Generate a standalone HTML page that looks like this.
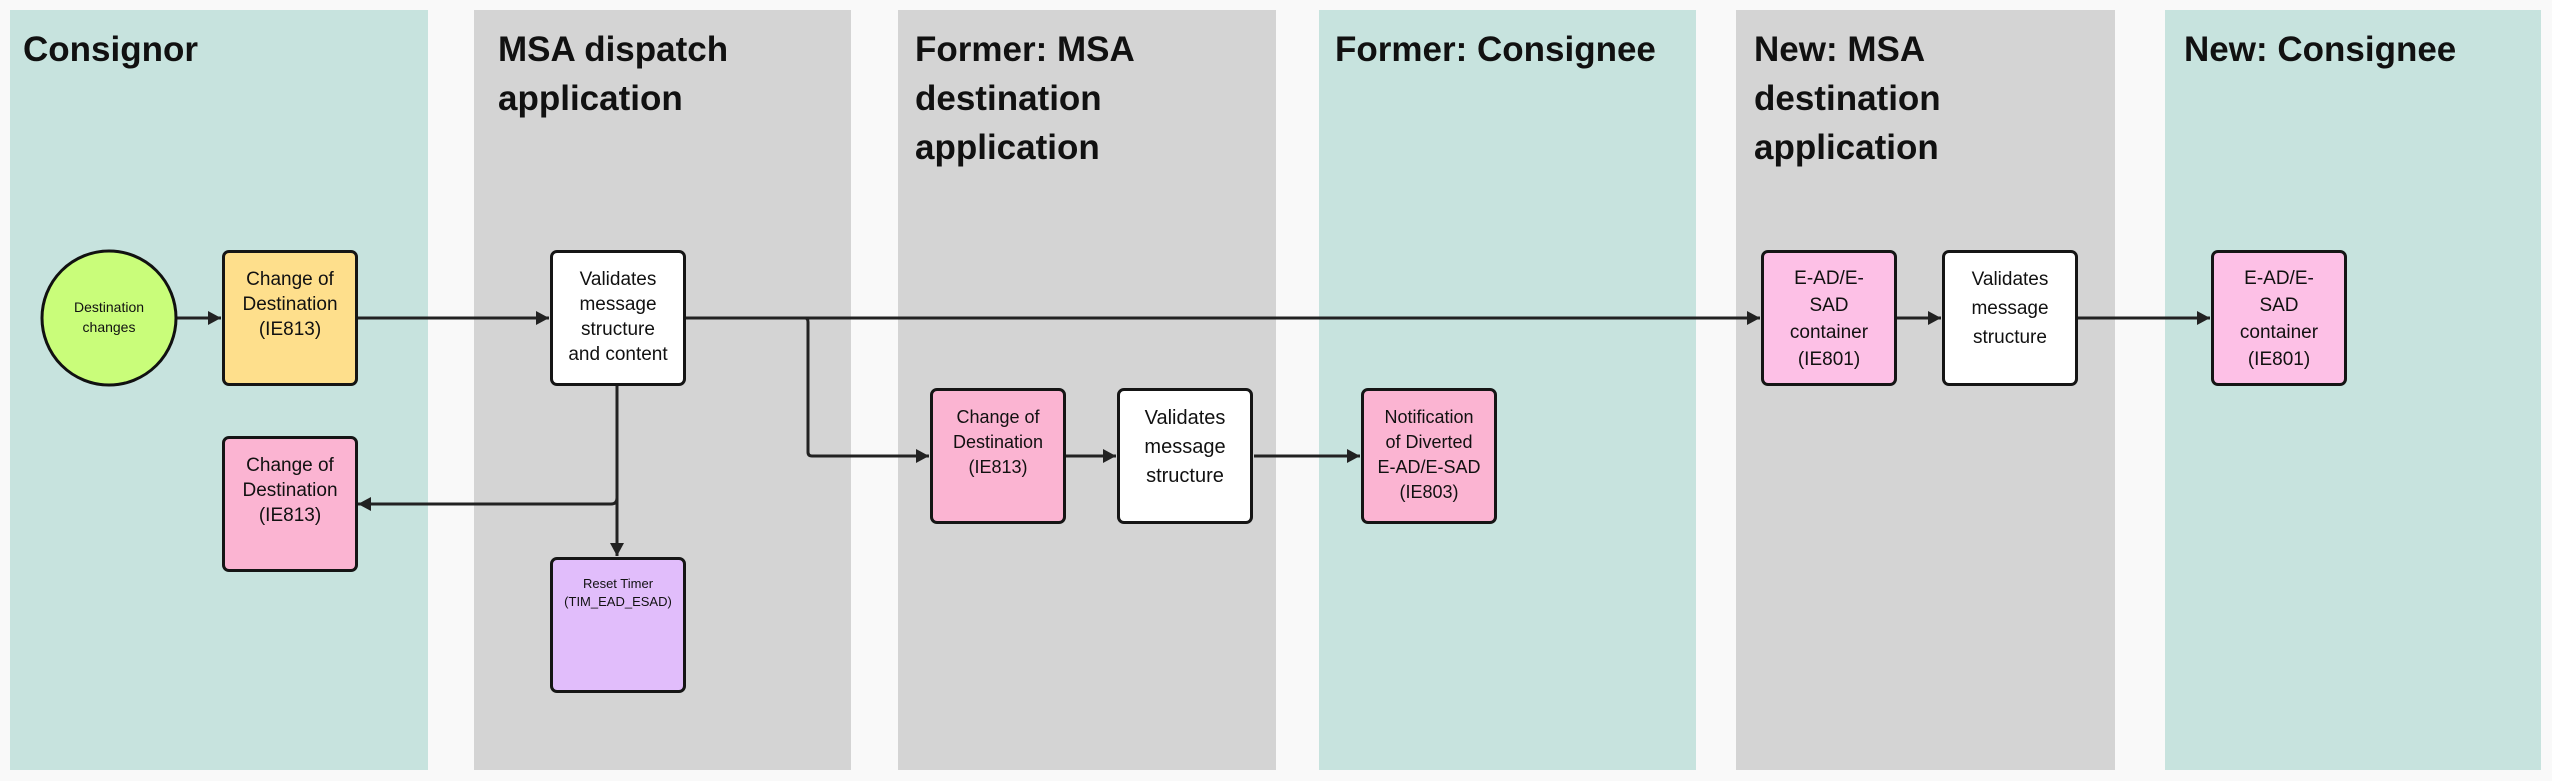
<!DOCTYPE html>
<html><head><meta charset="utf-8"><style>
body{margin:0;width:2552px;height:781px;background:#f9f9f9;position:relative;overflow:hidden;font-family:"Liberation Sans",sans-serif;}
.lane{position:absolute;top:10px;height:760px;}
.t{background:#c7e3de}.g{background:#d4d4d4}
.title{position:absolute;top:25px;font-weight:bold;font-size:35px;line-height:49px;color:#111;}
.box{position:absolute;box-sizing:border-box;width:136px;height:136px;border:3px solid #151515;border-radius:7px;text-align:center;font-size:19px;line-height:25px;color:#111;padding-top:14px;}
svg{position:absolute;left:0;top:0}
</style></head><body>
<div class="lane t" style="left:10px;width:418px"></div>
<div class="lane g" style="left:474px;width:377px"></div>
<div class="lane g" style="left:898px;width:378px"></div>
<div class="lane t" style="left:1319px;width:377px"></div>
<div class="lane g" style="left:1736px;width:379px"></div>
<div class="lane t" style="left:2165px;width:376px"></div>
<div class="title" style="left:23px">Consignor</div>
<div class="title" style="left:498px">MSA dispatch<br>application</div>
<div class="title" style="left:915px">Former: MSA<br>destination<br>application</div>
<div class="title" style="left:1335px">Former: Consignee</div>
<div class="title" style="left:1754px">New: MSA<br>destination<br>application</div>
<div class="title" style="left:2184px">New: Consignee</div>
<svg width="2552" height="781">
<defs><marker id="a" markerWidth="13" markerHeight="14" refX="13" refY="7" orient="auto" markerUnits="userSpaceOnUse"><path d="M0,0 L13,7 L0,14z" fill="#222"/></marker></defs>
<g stroke="#222" stroke-width="3" fill="none">
<line x1="176" y1="318" x2="221" y2="318" marker-end="url(#a)"/>
<line x1="357" y1="318" x2="549" y2="318" marker-end="url(#a)"/>
<line x1="685" y1="318" x2="1760" y2="318" marker-end="url(#a)"/>
<path d="M805,318 Q808,318 808,322 L808,452 Q808,456 812,456 L929,456" marker-end="url(#a)"/>
<line x1="617" y1="386" x2="617" y2="556" marker-end="url(#a)"/>
<path d="M617,498 Q617,504 611,504 L358,504" marker-end="url(#a)"/>
<line x1="1066" y1="456" x2="1116" y2="456" marker-end="url(#a)"/>
<line x1="1254" y1="456" x2="1360" y2="456" marker-end="url(#a)"/>
<line x1="1897" y1="318" x2="1941" y2="318" marker-end="url(#a)"/>
<line x1="2077" y1="318" x2="2210" y2="318" marker-end="url(#a)"/>
</g>
<ellipse cx="109" cy="318" rx="67" ry="67" fill="#c9fd7a" stroke="#111" stroke-width="3"/>
</svg>
<div style="position:absolute;left:42px;top:297px;width:134px;text-align:center;font-size:14px;line-height:20px;color:#111">Destination<br>changes</div>
<div class="box" style="left:222px;top:250px;background:#fedf8c">Change of<br>Destination<br>(IE813)</div>
<div class="box" style="left:222px;top:436px;background:#fbb4d2">Change of<br>Destination<br>(IE813)</div>
<div class="box" style="left:550px;top:250px;background:#fff">Validates<br>message<br>structure<br>and content</div>
<div class="box" style="left:550px;top:557px;background:#e1bdfb;font-size:13px;line-height:18px;padding-top:15px">Reset Timer<br>(TIM_EAD_ESAD)</div>
<div class="box" style="left:930px;top:388px;background:#fbb4d2;font-size:18px">Change of<br>Destination<br>(IE813)</div>
<div class="box" style="left:1117px;top:388px;background:#fff;font-size:20px;line-height:29px;padding-top:13px">Validates<br>message<br>structure</div>
<div class="box" style="left:1361px;top:388px;background:#fbb4d2;font-size:18px">Notification<br>of Diverted<br>E-AD/E-SAD<br>(IE803)</div>
<div class="box" style="left:1761px;top:250px;background:#fdc0e6;line-height:27px;padding-top:12px">E-AD/E-<br>SAD<br>container<br>(IE801)</div>
<div class="box" style="left:1942px;top:250px;background:#fff;line-height:29px;padding-top:12px">Validates<br>message<br>structure</div>
<div class="box" style="left:2211px;top:250px;background:#fdc0e6;line-height:27px;padding-top:12px">E-AD/E-<br>SAD<br>container<br>(IE801)</div>
</body></html>
